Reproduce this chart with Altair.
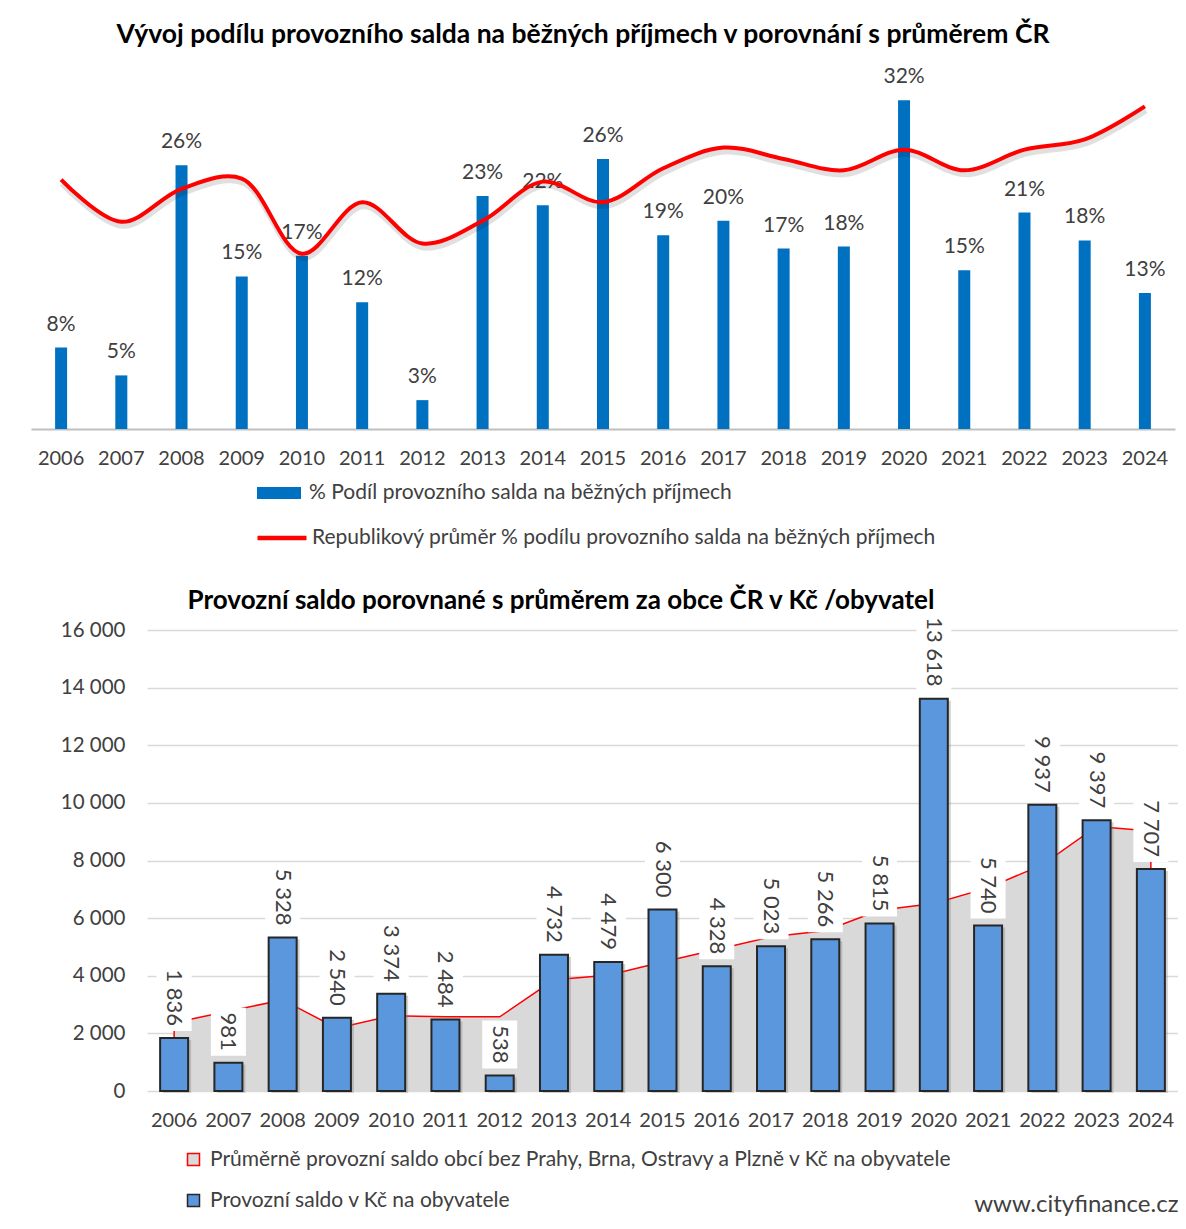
import altair as alt
import pandas as pd

FONT = "Lato"

years = [str(y) for y in range(2006, 2025)]

# top chart: share of operating balance on current revenues (%)
share = [7.9, 5.2, 25.6, 14.8, 16.8, 12.3, 2.8, 22.6, 21.7, 26.2, 18.8, 20.2,
         17.5, 17.7, 31.9, 15.4, 21.0, 18.3, 13.2]
share_labels = ["8%", "5%", "26%", "15%", "17%", "12%", "3%", "23%", "22%", "26%",
                "19%", "20%", "17%", "18%", "32%", "15%", "21%", "18%", "13%"]
avg_share = [24.2, 20.1, 23.3, 24.3, 17.0, 22.0, 18.0, 20.2, 24.0, 22.0, 25.3,
             27.3, 26.2, 25.1, 27.1, 25.1, 27.1, 28.1, 31.3]

# bottom chart: operating balance per inhabitant (CZK)
saldo = [1836, 981, 5328, 2540, 3374, 2484, 538, 4732, 4479, 6300, 4328, 5023,
         5266, 5815, 13618, 5740, 9937, 9397, 7707]
avg_saldo = [2370, 2770, 3160, 2180, 2610, 2575, 2575, 3860, 4020, 4480, 4910,
             5350, 5565, 6270, 6510, 7050, 7850, 9180, 9020]
y_ticks = [0, 2000, 4000, 6000, 8000, 10000, 12000, 14000, 16000]

title_top = "Vývoj podílu provozního salda na běžných příjmech v porovnání s průměrem ČR"
title_bottom = "Provozní saldo porovnané s průměrem za obce ČR v Kč /obyvatel"
s_bar = "% Podíl provozního salda na běžných příjmech"
s_line = "Republikový průměr % podílu provozního salda na běžných příjmech"
s_area = "Průměrně provozní saldo obcí bez Prahy, Brna, Ostravy a Plzně v Kč na obyvatele"
s_bar2 = "Provozní saldo v Kč na obyvatele"
source = "www.cityfinance.cz"

top_df = pd.DataFrame({"year": years, "share": share, "label": share_labels,
                       "avg": avg_share, "s1": s_bar, "s2": s_line})
bot_df = pd.DataFrame({"year": years, "saldo": saldo, "avg": avg_saldo,
                       "lbl": [f"{v:,}".replace(",", " ") for v in saldo],
                       "s3": s_area, "s4": s_bar2})
bot_df["nch"] = bot_df["lbl"].str.len()

TXT = "#404040"
LEG = 21
W = 1144

# ---------------- top chart ----------------
xt_scale = alt.Scale(paddingInner=0, paddingOuter=0)
xt_axis = alt.Axis(labelAngle=0, labelFontSize=20, labelColor=TXT, labelPadding=19,
                   ticks=False, domainColor="#bfbfbf", domainWidth=2, title=None,
                   labelFont=FONT)


def xt(band=False):
    if band:
        return alt.X("year:O", scale=xt_scale, axis=xt_axis, bandPosition=0.5)
    return alt.X("year:O", scale=xt_scale, axis=xt_axis)


yt_scale = alt.Scale(domain=[0, 35.8], nice=False)

top_base = alt.Chart(top_df)
t_bars = top_base.mark_bar(size=12).encode(
    x=xt(),
    y=alt.Y("share:Q", scale=yt_scale, axis=None),
    color=alt.Color("s1:N", scale=alt.Scale(range=["#0070C0"]),
                    legend=alt.Legend(title=None, orient="none", legendX=226, legendY=411,
                                      symbolType="M-1,-0.27H1V0.27H-1Z", symbolSize=1936,
                                      symbolStrokeWidth=0, labelFontSize=LEG, labelColor=TXT,
                                      labelFont=FONT, labelOffset=8, labelLimit=1000,
                                      padding=0)),
)
t_text = top_base.mark_text(dy=-17, baseline="alphabetic", fontSize=21, color=TXT,
                            font=FONT).encode(
    x=xt(True), y=alt.Y("share:Q", scale=yt_scale, axis=None), text="label:N")
t_shadow = top_base.mark_line(interpolate="catmull-rom", strokeWidth=6, color="#000000",
                              opacity=0.12, yOffset=4, xOffset=1).encode(
    x=xt(True), y=alt.Y("avg:Q", scale=yt_scale, axis=None))
t_line = top_base.mark_line(interpolate="catmull-rom", strokeWidth=4).encode(
    x=xt(True),
    y=alt.Y("avg:Q", scale=yt_scale, axis=None),
    stroke=alt.Stroke("s2:N", scale=alt.Scale(range=["#FF0000"]),
                      legend=alt.Legend(title=None, orient="none", legendX=224, legendY=451,
                                        symbolType="stroke", symbolSize=2401,
                                        symbolStrokeWidth=4.5, labelFontSize=LEG,
                                        labelColor=TXT, labelFont=FONT, labelOffset=3,
                                        labelLimit=1000, padding=0)),
)

top = alt.layer(t_bars, t_text, t_shadow, t_line).properties(
    width=W, height=369,
    title=alt.TitleParams(title_top, fontSize=26.5, fontWeight="bold", color="#000000",
                          font=FONT, anchor="middle", dx=-20, offset=12),
)

# ---------------- bottom chart ----------------
xb_scale = alt.Scale(range=[116, 1147], paddingInner=0, paddingOuter=0)
xb_axis = alt.Axis(labelAngle=0, labelFontSize=20, labelColor=TXT, labelPadding=19,
                   ticks=False, domain=False, labelFont=FONT, title=source,
                   titleFontSize=24, titleFontWeight="normal", titleColor=TXT,
                   titleFont=FONT, titleAnchor="end", titlePadding=62)


def xb(band=False):
    if band:
        return alt.X("year:O", scale=xb_scale, axis=xb_axis, bandPosition=0.5)
    return alt.X("year:O", scale=xb_scale, axis=xb_axis)


yb_scale = alt.Scale(domain=[0, 16000], nice=False)
yb_axis = alt.Axis(values=y_ticks, labelExpr="replace(format(datum.value, ','), ',', ' ')",
                   grid=True, gridColor="#d9d9d9", gridWidth=1.5, domain=False, ticks=False,
                   labelPadding=22, labelFontSize=20.5, labelColor=TXT, labelFont=FONT,
                   title=None, offset=-116)

bot_base = alt.Chart(bot_df)
b_area = bot_base.mark_area(opacity=1).encode(
    x=xb(True),
    y=alt.Y("avg:Q", scale=yb_scale, axis=yb_axis),
    fill=alt.Fill("s3:N", scale=alt.Scale(range=["#d9d9d9"]),
                  legend=alt.Legend(title=None, orient="none", legendX=152, legendY=519,
                                    symbolType="square", symbolSize=144,
                                    symbolStrokeColor="#FF0000", symbolStrokeWidth=1.5,
                                    labelFontSize=LEG, labelColor=TXT, labelFont=FONT,
                                    labelOffset=6, labelLimit=1000, padding=0)),
)
b_line = bot_base.mark_line(color="#FF0000", strokeWidth=1.5).encode(
    x=xb(True), y=alt.Y("avg:Q", scale=yb_scale, axis=yb_axis))
b_ends = bot_base.transform_filter(
    (alt.datum.year == years[0]) | (alt.datum.year == years[-1])
).mark_rule(color="#FF0000", strokeWidth=1.5).encode(
    x=xb(True), y=alt.Y("avg:Q", scale=yb_scale, axis=yb_axis), y2=alt.datum(0))
b_shadow = bot_base.mark_bar(size=28, color="#7f7f7f", opacity=0.35, xOffset=3,
                             yOffset=2).encode(
    x=xb(), y=alt.Y("saldo:Q", scale=yb_scale, axis=yb_axis))
b_bars = bot_base.mark_bar(size=28, stroke="#262626", strokeWidth=2).encode(
    x=xb(),
    y=alt.Y("saldo:Q", scale=yb_scale, axis=yb_axis),
    color=alt.Color("s4:N", scale=alt.Scale(range=["#5B97DD"]),
                    legend=alt.Legend(title=None, orient="none", legendX=152, legendY=560,
                                      symbolType="square", symbolSize=144,
                                      symbolStrokeColor="#262626", symbolStrokeWidth=1.5,
                                      labelFontSize=LEG, labelColor=TXT, labelFont=FONT,
                                      labelOffset=6, labelLimit=1000, padding=0)),
)

box_len = {3: 48, 5: 64, 6: 76}
boxes = []
for n, L in box_len.items():
    boxes.append(
        bot_base.transform_filter(alt.datum.nch == n).mark_bar(
            size=35, color="#ffffff", yOffset=-7, y2Offset=-(7 + L)
        ).encode(x=xb(), y=alt.Y("saldo:Q", scale=yb_scale, axis=yb_axis),
                 y2=alt.Y2("saldo:Q"))
    )
b_text = bot_base.mark_text(angle=90, align="right", baseline="middle", fontSize=22,
                            color=TXT, font=FONT, yOffset=-12).encode(
    x=xb(True), y=alt.Y("saldo:Q", scale=yb_scale, axis=yb_axis), text="lbl:N")

bottom = alt.layer(b_area, b_line, b_ends, b_shadow, b_bars, *boxes, b_text).properties(
    width=W, height=461,
    title=alt.TitleParams(title_bottom, fontSize=26, fontWeight="bold", color="#000000",
                          font=FONT, anchor="middle", dx=-42, offset=2),
)

chart = alt.vconcat(top, bottom, spacing=201, bounds="flush").resolve_scale(
    x="independent", y="independent", color="independent", fill="independent",
    stroke="independent"
).resolve_legend(color="independent", fill="independent", stroke="independent").properties(
    padding={"left": 23, "top": 13, "right": 0, "bottom": 0}
).configure(font=FONT).configure_view(strokeWidth=0)

chart.save("out.html", embed_options={"renderer": "svg", "actions": False})
